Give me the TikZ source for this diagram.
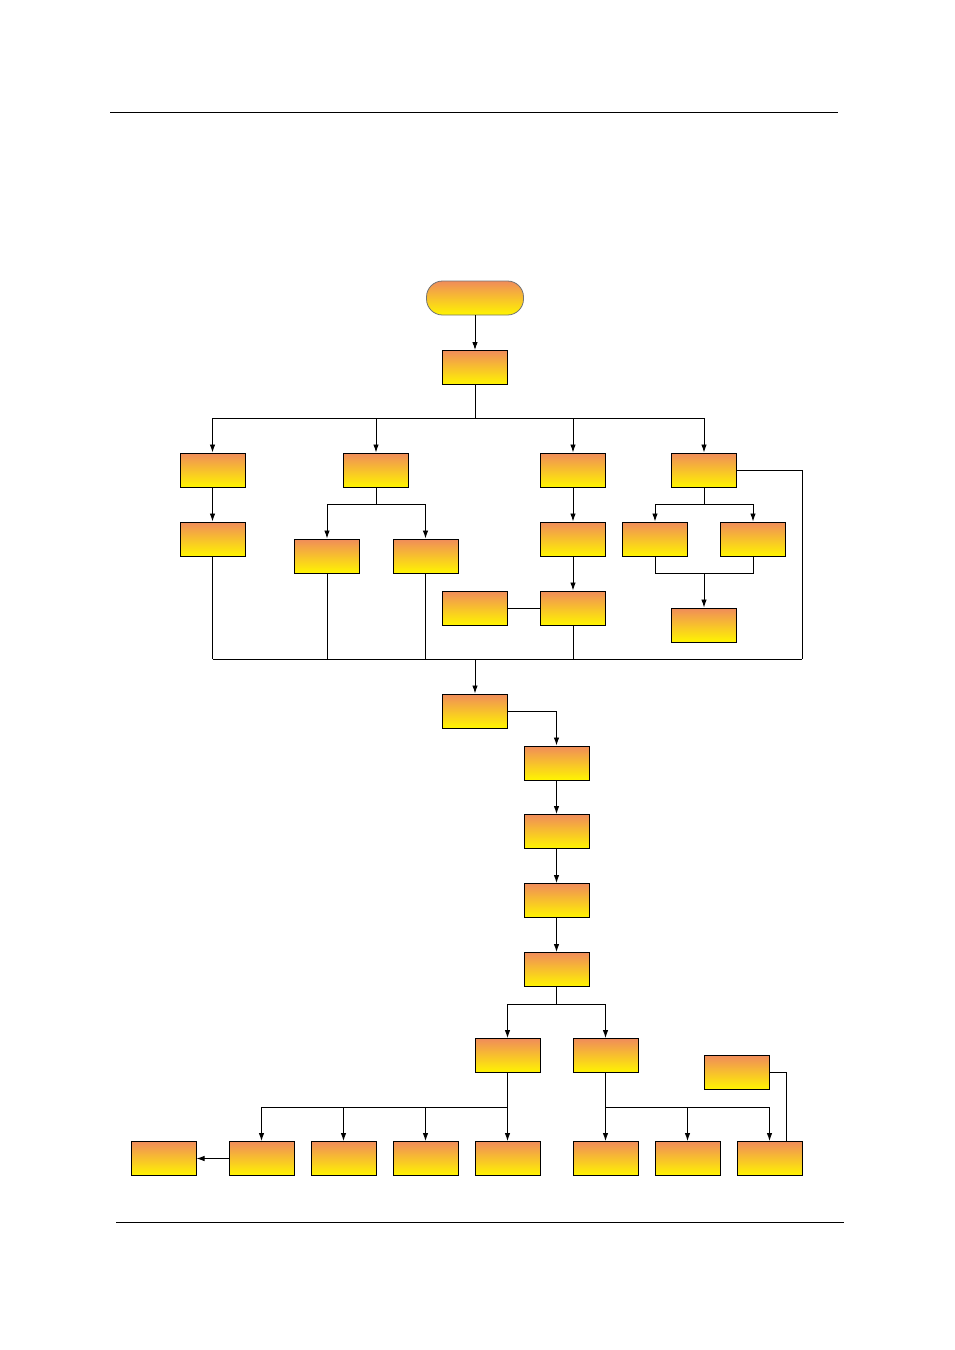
\documentclass[tikz,border=0pt]{standalone}
\usetikzlibrary{arrows.meta}
\definecolor{topc}{RGB}{240,140,90}
\definecolor{midc}{RGB}{245,190,55}
\definecolor{botc}{RGB}{255,245,0}
\begin{document}
\begin{tikzpicture}[x=1pt,y=-1pt,
  box/.style={draw=black, line width=1pt, minimum width=65pt, minimum height=34pt, inner sep=0pt,
    top color=topc, middle color=midc, bottom color=botc},
  term/.style={box, draw=black!55, line width=0.8pt, minimum width=97pt, rounded corners=16pt},
  conn/.style={draw=black, line width=0.9pt},
  arr/.style={conn, -{Latex[length=8pt,width=5.5pt]}}]
\useasboundingbox (0,0) rectangle (954,1350);
% header/footer rules
\coordinate (h1) at (110,112); \coordinate (h2) at (838,112);
\coordinate (f1) at (116,1222); \coordinate (f2) at (844,1222);
\draw[line width=0.7pt] (h1) -- (h2);
\draw[line width=0.7pt] (f1) -- (f2);
% nodes
\node[term] (S) at (475,298) {};
\node[box] (B1) at (475,367.5) {};
\node[box] (A) at (212.5,470) {};
\node[box] (B) at (376,470) {};
\node[box] (C) at (573,470) {};
\node[box] (D) at (704,470) {};
\node[box] (A2) at (212.5,539) {};
\node[box] (Bl) at (327,556) {};
\node[box] (Br) at (425.5,556) {};
\node[box] (C2) at (573,539) {};
\node[box] (C3) at (573,608) {};
\node[box] (Cs) at (475,608) {};
\node[box] (Dl) at (655,539) {};
\node[box] (Dr) at (753,539) {};
\node[box] (D3) at (704,625) {};
\node[box] (E) at (475,711) {};
\node[box] (F1) at (556.5,763) {};
\node[box] (F2) at (556.5,831.5) {};
\node[box] (F3) at (556.5,900.5) {};
\node[box] (F4) at (556.5,969.5) {};
\node[box] (Gl) at (507.5,1055.5) {};
\node[box] (Gr) at (605.5,1055.5) {};
\node[box] (J) at (736.5,1072.5) {};
\node[box] (H0) at (163.5,1158.5) {};
\node[box] (H1) at (261.5,1158.5) {};
\node[box] (H2) at (343.5,1158.5) {};
\node[box] (H3) at (425.5,1158.5) {};
\node[box] (H4) at (507.5,1158.5) {};
\node[box] (I1) at (605.5,1158.5) {};
\node[box] (I2) at (687.5,1158.5) {};
\node[box] (I3) at (769.5,1158.5) {};
% junctions
\coordinate (j1) at (475,418);
\coordinate (jb) at (376,504);
\coordinate (jd) at (704,504);
\coordinate (jdm) at (704,573);
\coordinate (m1) at (212.5,659);
\coordinate (mc) at (475,659);
\coordinate (m5) at (802,659);
\coordinate (jf) at (556.5,1004);
\coordinate (jg) at (507.5,1107);
\coordinate (ji) at (605.5,1107);
\coordinate (jj) at (786,1141);
% connectors
\draw[arr] (S) -- (B1);
\draw[conn] (B1) -- (j1);
\draw[arr] (j1) -| (A);
\draw[arr] (j1) -| (B);
\draw[arr] (j1) -| (C);
\draw[arr] (j1) -| (D);
\draw[arr] (A) -- (A2);
\draw[conn] (B) -- (jb);
\draw[arr] (jb) -| (Bl);
\draw[arr] (jb) -| (Br);
\draw[arr] (C) -- (C2);
\draw[arr] (C2) -- (C3);
\draw[conn] (Cs) -- (C3);
\draw[conn] (D) -- (jd);
\draw[arr] (jd) -| (Dl);
\draw[arr] (jd) -| (Dr);
\draw[conn] (Dl.south) |- (jdm);
\draw[conn] (Dr.south) |- (jdm);
\draw[arr] (jdm) -- (D3);
\draw[conn] (D.east) -| (m5);
\draw[conn] (m1) -- (m5);
\draw[conn] (A2) -- (m1);
\draw[conn] (Bl.south) -- (Bl.south |- m1);
\draw[conn] (Br.south) -- (Br.south |- m1);
\draw[conn] (C3.south) -- (C3.south |- m1);
\draw[arr] (mc) -- (E);
\draw[arr] (E.east) -| (F1);
\draw[arr] (F1) -- (F2);
\draw[arr] (F2) -- (F3);
\draw[arr] (F3) -- (F4);
\draw[conn] (F4) -- (jf);
\draw[arr] (jf) -| (Gl);
\draw[arr] (jf) -| (Gr);
\draw[conn] (Gl) -- (jg);
\draw[arr] (jg) -| (H1);
\draw[arr] (jg) -| (H2);
\draw[arr] (jg) -| (H3);
\draw[arr] (jg) -- (H4);
\draw[arr] (H1) -- (H0);
\draw[conn] (Gr) -- (ji);
\draw[arr] (ji) -- (I1);
\draw[arr] (ji) -| (I2);
\draw[arr] (ji) -| (I3);
\draw[conn] (J.east) -| (jj);
\end{tikzpicture}
\end{document}
